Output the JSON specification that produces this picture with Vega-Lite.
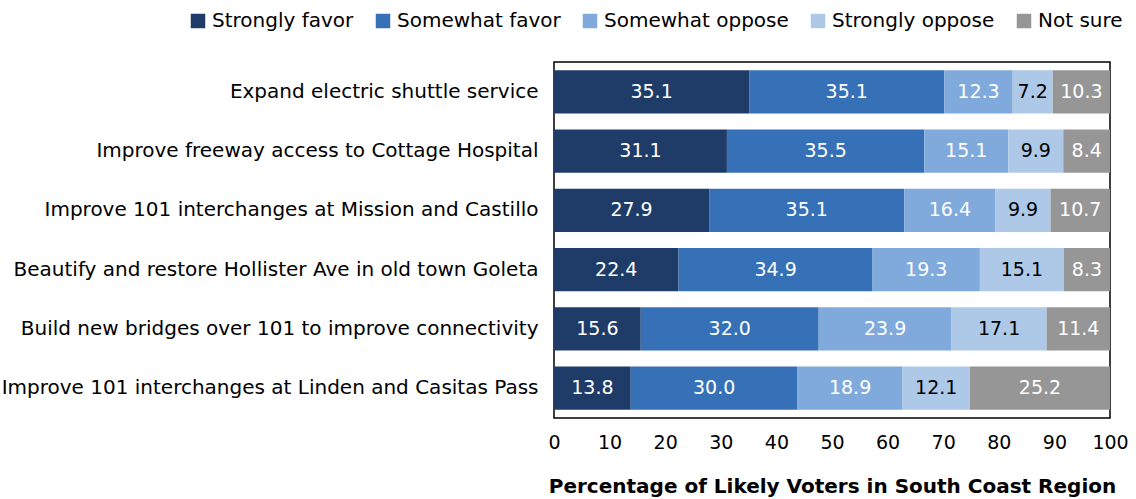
{
  "$schema": "https://vega.github.io/schema/vega-lite/v6.json",
  "autosize": {"type": "none"},
  "padding": {"left": 554, "top": 62, "right": 26, "bottom": 81},
  "width": 556,
  "height": 356,
  "background": "white",
  "config": {
    "font": "DejaVu Sans",
    "view": {"stroke": "black", "strokeWidth": 1.5}
  },
  "data": {
    "values": [
      {"item": "Expand electric shuttle service", "response": "Strongly favor", "value": 35.1},
      {"item": "Expand electric shuttle service", "response": "Somewhat favor", "value": 35.1},
      {"item": "Expand electric shuttle service", "response": "Somewhat oppose", "value": 12.3},
      {"item": "Expand electric shuttle service", "response": "Strongly oppose", "value": 7.2},
      {"item": "Expand electric shuttle service", "response": "Not sure", "value": 10.3},
      {"item": "Improve freeway access to Cottage Hospital", "response": "Strongly favor", "value": 31.1},
      {"item": "Improve freeway access to Cottage Hospital", "response": "Somewhat favor", "value": 35.5},
      {"item": "Improve freeway access to Cottage Hospital", "response": "Somewhat oppose", "value": 15.1},
      {"item": "Improve freeway access to Cottage Hospital", "response": "Strongly oppose", "value": 9.9},
      {"item": "Improve freeway access to Cottage Hospital", "response": "Not sure", "value": 8.4},
      {"item": "Improve 101 interchanges at Mission and Castillo", "response": "Strongly favor", "value": 27.9},
      {"item": "Improve 101 interchanges at Mission and Castillo", "response": "Somewhat favor", "value": 35.1},
      {"item": "Improve 101 interchanges at Mission and Castillo", "response": "Somewhat oppose", "value": 16.4},
      {"item": "Improve 101 interchanges at Mission and Castillo", "response": "Strongly oppose", "value": 9.9},
      {"item": "Improve 101 interchanges at Mission and Castillo", "response": "Not sure", "value": 10.7},
      {"item": "Beautify and restore Hollister Ave in old town Goleta", "response": "Strongly favor", "value": 22.4},
      {"item": "Beautify and restore Hollister Ave in old town Goleta", "response": "Somewhat favor", "value": 34.9},
      {"item": "Beautify and restore Hollister Ave in old town Goleta", "response": "Somewhat oppose", "value": 19.3},
      {"item": "Beautify and restore Hollister Ave in old town Goleta", "response": "Strongly oppose", "value": 15.1},
      {"item": "Beautify and restore Hollister Ave in old town Goleta", "response": "Not sure", "value": 8.3},
      {"item": "Build new bridges over 101 to improve connectivity", "response": "Strongly favor", "value": 15.6},
      {"item": "Build new bridges over 101 to improve connectivity", "response": "Somewhat favor", "value": 32.0},
      {"item": "Build new bridges over 101 to improve connectivity", "response": "Somewhat oppose", "value": 23.9},
      {"item": "Build new bridges over 101 to improve connectivity", "response": "Strongly oppose", "value": 17.1},
      {"item": "Build new bridges over 101 to improve connectivity", "response": "Not sure", "value": 11.4},
      {"item": "Improve 101 interchanges at Linden and Casitas Pass", "response": "Strongly favor", "value": 13.8},
      {"item": "Improve 101 interchanges at Linden and Casitas Pass", "response": "Somewhat favor", "value": 30.0},
      {"item": "Improve 101 interchanges at Linden and Casitas Pass", "response": "Somewhat oppose", "value": 18.9},
      {"item": "Improve 101 interchanges at Linden and Casitas Pass", "response": "Strongly oppose", "value": 12.1},
      {"item": "Improve 101 interchanges at Linden and Casitas Pass", "response": "Not sure", "value": 25.2}
    ]
  },
  "transform": [
    {"stack": "value", "groupby": ["item"], "as": ["x0", "x1"]}
  ],
  "encoding": {
    "y": {
      "field": "item", "type": "nominal", "sort": null,
      "scale": {"paddingInner": 0.27, "paddingOuter": 0.14},
      "axis": {"title": null, "ticks": false, "domain": false, "labelFontSize": 20, "labelPadding": 16, "labelColor": "black", "labelLimit": 600}
    }
  },
  "layer": [
    {
      "mark": {"type": "bar"},
      "encoding": {
        "x": {
          "field": "x0", "type": "quantitative",
          "scale": {"domain": [0, 100], "nice": false},
          "axis": {"title": "Percentage of Likely Voters in South Coast Region", "titleFontSize": 20, "titleFontWeight": "bold", "titleColor": "black", "titlePadding": 24, "values": [0,10,20,30,40,50,60,70,80,90,100], "grid": false, "ticks": false, "domain": false, "labelFontSize": 19, "labelPadding": 15, "labelColor": "black", "labelFlush": false}
        },
        "x2": {"field": "x1"},
        "color": {
          "field": "response", "type": "nominal",
          "scale": {
            "domain": ["Strongly favor", "Somewhat favor", "Somewhat oppose", "Strongly oppose", "Not sure"],
            "range": ["#1F3C68", "#3670B6", "#7FAADB", "#AEC8E8", "#969696"]
          },
          "legend": {
            "title": null, "orient": "none", "legendX": -366, "legendY": -51,
            "direction": "horizontal", "columns": 5, "symbolType": "square", "symbolSize": 210,
            "symbolStrokeWidth": 0, "labelFontSize": 20, "labelColor": "black", "labelLimit": 400, "columnPadding": 19, "labelOffset": 4
          }
        }
      }
    },
    {
      "transform": [
        {"fold": ["x0", "x1"], "as": ["edge", "pos"]},
        {"aggregate": [{"op": "mean", "field": "pos", "as": "xm"}], "groupby": ["item", "response", "value"]}
      ],
      "mark": {"type": "text", "fontSize": 19, "baseline": "middle"},
      "encoding": {
        "x": {"field": "xm", "type": "quantitative"},
        "text": {"field": "value", "type": "quantitative", "format": ".1f"},
        "color": {
          "condition": {"test": "datum.response === 'Strongly oppose'", "value": "black"},
          "value": "white"
        }
      }
    }
  ]
}
